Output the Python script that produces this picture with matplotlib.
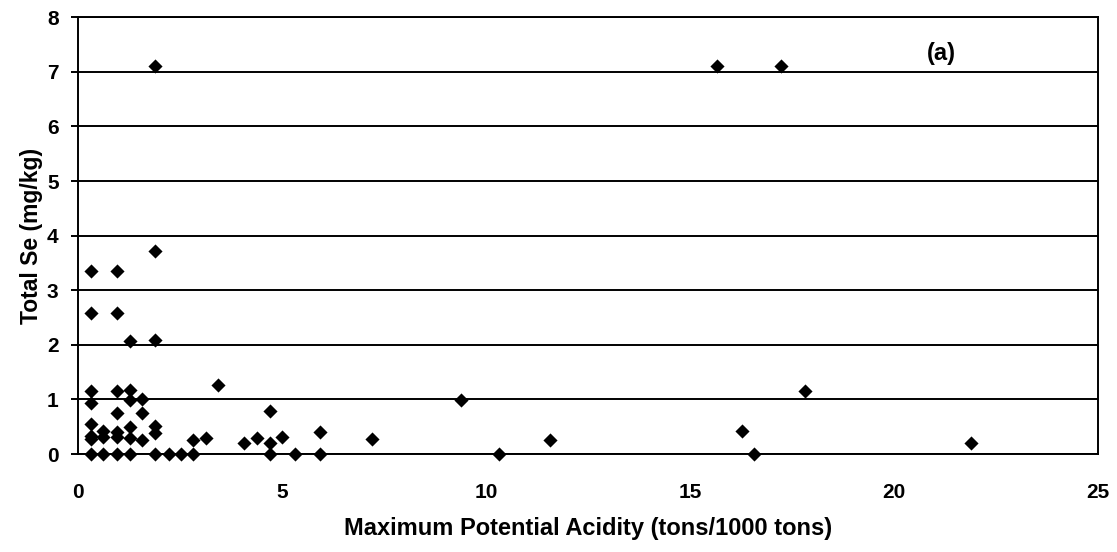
import matplotlib
matplotlib.use("Agg")
import matplotlib.pyplot as plt

# Maximum potential acidity (tons/1000 tons)
mpa = [0.31, 0.31, 0.31, 0.31, 0.31, 0.31, 0.31, 0.31,
       0.62, 0.62, 0.62,
       0.95, 0.95, 0.95, 0.95, 0.95, 0.95, 0.95,
       1.28, 1.28, 1.28, 1.28, 1.28, 1.28,
       1.58, 1.58, 1.58,
       1.89, 1.89, 1.89, 1.89, 1.89, 1.89,
       2.22, 2.52, 2.81, 2.81, 3.14, 3.44, 4.06, 4.38,
       4.71, 4.71, 4.71, 5.01, 5.32, 5.94, 5.94, 7.21,
       9.39, 10.31, 11.58, 15.65, 16.28, 16.57, 17.22, 17.82, 21.88]
# Total Se (mg/kg)
total_se = [3.36, 2.58, 1.15, 0.93, 0.55, 0.33, 0.27, 0.0,
            0.42, 0.32, 0.0,
            3.36, 2.58, 1.15, 0.76, 0.40, 0.31, 0.0,
            2.07, 1.17, 0.99, 0.50, 0.30, 0.0,
            1.00, 0.76, 0.26,
            7.11, 3.72, 2.09, 0.51, 0.38, 0.0,
            0.0, 0.0, 0.26, 0.0, 0.29, 1.26, 0.20, 0.29,
            0.78, 0.21, 0.0, 0.31, 0.0, 0.41, 0.0, 0.27,
            0.99, 0.0, 0.26, 7.11, 0.42, 0.0, 7.11, 1.15, 0.20]

x_ticks = [0, 5, 10, 15, 20, 25]
y_ticks = [0, 1, 2, 3, 4, 5, 6, 7, 8]

plt.rcParams['font.family'] = ['Liberation Sans', 'DejaVu Sans']
plt.rcParams['font.weight'] = 'bold'

fig = plt.figure(figsize=(11.17, 5.52), dpi=100)
ax = fig.add_axes([78/1117, 1 - 454/552, (1098-78)/1117, (454-17.3)/552])

ax.scatter(mpa, total_se, marker='D', s=7.2**2, color='black',
           linewidths=0, zorder=3, clip_on=False)

ax.set_xlim(0, 25)
ax.set_ylim(0, 8)
ax.set_xticks(x_ticks)
ax.set_yticks(y_ticks)
ax.yaxis.grid(True, color='black', linewidth=1.4)
ax.set_axisbelow(True)
for sp in ax.spines.values():
    sp.set_linewidth(1.4)
    sp.set_color('black')

ax.tick_params(axis='x', length=0, pad=21, labelsize=15)
ax.tick_params(axis='y', length=5, width=1.4, pad=9, labelsize=15)
for lab in ax.get_xticklabels() + ax.get_yticklabels():
    lab.set_fontweight('bold')

ax.set_xlabel('Maximum Potential Acidity (tons/1000 tons)', fontsize=17, fontweight='bold')
ax.set_ylabel('Total Se (mg/kg)', fontsize=16.5, fontweight='bold')
ax.xaxis.set_label_coords((588-78)/1020, (454-528)/(454-17.3))
ax.xaxis.label.set_va('center')
ax.yaxis.set_label_coords((32-78)/1020, 0.5)
ax.yaxis.label.set_va('center')

ax.text(21.15, 7.34, '(a)', fontsize=17, fontweight='bold', ha='center', va='center')

fig.savefig('out.png', dpi=100)
